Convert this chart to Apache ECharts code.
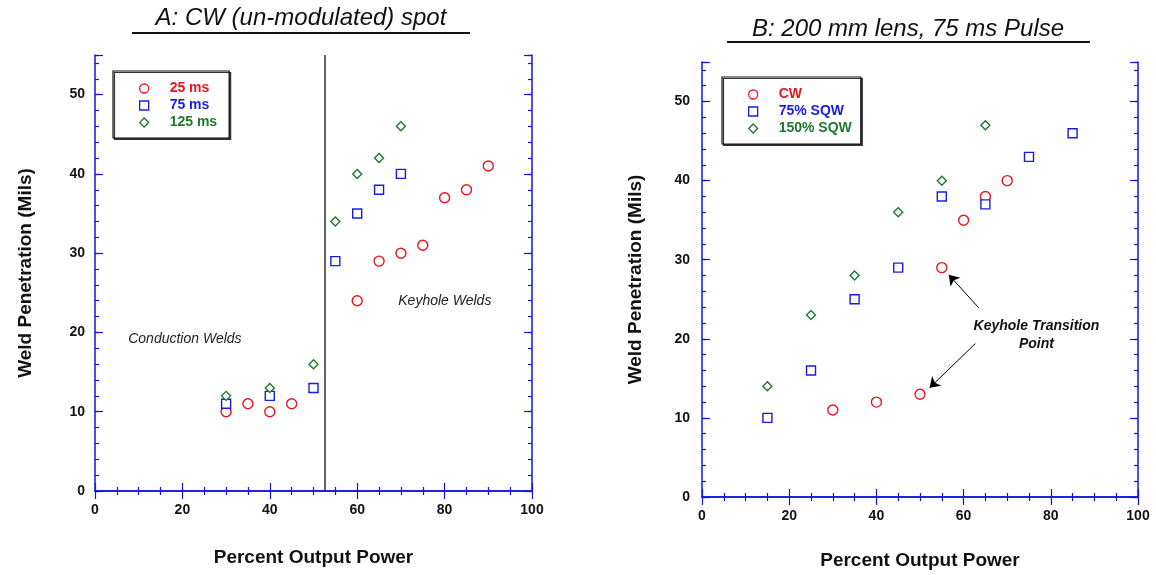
<!DOCTYPE html>
<html>
<head>
<meta charset="utf-8">
<title>Weld Penetration</title>
<script src="https://cdn.jsdelivr.net/npm/echarts@6/dist/echarts.min.js"></script>
<style>
  html, body { margin: 0; padding: 0; background: #fff; }
  #chart { width: 1156px; height: 575px; }
</style>
</head>
<body>
<div id="chart"></div>
<script>
// panel A: CW (un-modulated) spot
const aPower25 = [30, 35, 40, 45, 60, 65, 70, 75, 80, 85, 90];
const aDepth25 = [10, 11, 10, 11, 24, 29, 30, 31, 37, 38, 41];
const aPower75 = [30, 40, 50, 55, 60, 65, 70];
const aDepth75 = [11, 12, 13, 29, 35, 38, 40];
const aPower125 = [30, 40, 50, 55, 60, 65, 70];
const aDepth125 = [12, 13, 16, 34, 40, 42, 46];

// panel B: 200 mm lens, 75 ms pulse
const bPowerCW = [30, 40, 50, 55, 60, 65, 70];
const bDepthCW = [11, 12, 13, 29, 35, 38, 40];
const bPower75 = [15, 25, 35, 45, 55, 65, 75, 85];
const bDepth75 = [10, 16, 25, 29, 38, 37, 43, 46];
const bPower150 = [15, 25, 35, 45, 55, 65];
const bDepth150 = [14, 23, 28, 36, 40, 47];

const legendA = ['25 ms', '75 ms', '125 ms'];
const legendB = ['CW', '75% SQW', '150% SQW'];

const FONT = '"Liberation Sans", Arial, sans-serif';
const BLUE = '#1414dc';
const RED = '#e8141e';
const DBLUE = '#1a1ae6';
const GREEN = '#1c7a2c';

function pairs (xs, ys) {
  let out = [];
  for (let i = 0; i < xs.length; i++) {
    out.push([xs[i], ys[i]]);
  }
  return out;
}

function xAxes (g, gap) {
  return [{
    gridIndex: g,
    type: 'value',
    position: 'bottom',
    min: 0,
    max: 100,
    interval: 20,
    axisLine: { lineStyle: { color: BLUE, width: 1.5 } },
    axisTick: { inside: true, length: 8, lineStyle: { color: BLUE, width: 1.2 } },
    minorTick: { show: true, splitNumber: 4, length: 4, lineStyle: { color: BLUE, width: 1.2 } },
    splitLine: { show: false },
    axisLabel: { color: '#111', fontWeight: 'bold', fontSize: 14, fontFamily: FONT, margin: 12 },
    name: 'Percent Output Power',
    nameLocation: 'middle',
    nameGap: gap,
    nameTextStyle: { color: '#111', fontWeight: 'bold', fontSize: 19, fontFamily: FONT }
  }, {
    gridIndex: g,
    type: 'value',
    position: 'top',
    min: 0,
    max: 100,
    interval: 20,
    axisLine: { lineStyle: { color: BLUE, width: 1.5 } },
    axisTick: { inside: true, length: 8, lineStyle: { color: BLUE, width: 1.2 } },
    minorTick: { show: true, splitNumber: 4, length: 4, lineStyle: { color: BLUE, width: 1.2 } },
    splitLine: { show: false },
    axisLabel: { show: false }
  }];
}

function yAxes (g, gap, margin) {
  let base = {
    gridIndex: g,
    type: 'value',
    min: 0,
    max: 55,
    splitLine: { show: false }
  };
  return [
    Object.assign({}, base, {
      position: 'left',
      interval: 2,
      axisLine: { show: true, lineStyle: { color: BLUE, width: 1.5 } },
      axisTick: { inside: true, length: 4, lineStyle: { color: BLUE, width: 1.2 } },
      axisLabel: {
        color: '#111', fontWeight: 'bold', fontSize: 14, fontFamily: FONT, margin: margin,
        formatter: function (v) { return v % 10 === 0 ? String(v) : ''; }
      },
      name: 'Weld Penetration (Mils)',
      nameLocation: 'middle',
      nameGap: gap,
      nameTextStyle: { color: '#111', fontWeight: 'bold', fontSize: 19, fontFamily: FONT }
    }),
    Object.assign({}, base, {
      position: 'left',
      interval: 10,
      axisLine: { show: false },
      axisTick: { inside: true, length: 8, lineStyle: { color: BLUE, width: 1.2 } },
      axisLabel: { show: false }
    }),
    Object.assign({}, base, {
      position: 'right',
      interval: 2,
      axisLine: { show: true, lineStyle: { color: BLUE, width: 1.5 } },
      axisTick: { inside: true, length: 4, lineStyle: { color: BLUE, width: 1.2 } },
      axisLabel: { show: false }
    }),
    Object.assign({}, base, {
      position: 'right',
      interval: 10,
      axisLine: { show: false },
      axisTick: { inside: true, length: 8, lineStyle: { color: BLUE, width: 1.2 } },
      axisLabel: { show: false }
    })
  ];
}

function scatter (name, data, symbol, size, color, xi, yi) {
  return {
    name: name,
    type: 'scatter',
    xAxisIndex: xi,
    yAxisIndex: yi,
    data: data,
    symbol: symbol,
    symbolSize: size,
    itemStyle: { color: '#fff', borderColor: color, borderWidth: 1.4, opacity: 1 },
    z: 5
  };
}

function legend (names, colors, left, top, padding) {
  return {
    orient: 'vertical',
    left: left,
    top: top,
    padding: padding,
    itemWidth: 9,
    itemHeight: 9,
    itemGap: 2,
    selectedMode: false,
    backgroundColor: '#fff',
    borderColor: '#111',
    borderWidth: 1.2,
    shadowColor: '#333',
    shadowOffsetX: 1.5,
    shadowOffsetY: 1.5,
    shadowBlur: 0,
    itemStyle: { borderWidth: 1.3 },
    textStyle: { fontWeight: 'bold', fontSize: 14, fontFamily: FONT, lineHeight: 15, padding: [0, 0, 0, 16] },
    data: names.map(function (n, i) {
      return { name: n, textStyle: { color: colors[i] } };
    })
  };
}

let sA25 = scatter(legendA[0], pairs(aPower25, aDepth25), 'circle', 10, RED, 0, 0);
sA25.markLine = {
  silent: true,
  symbol: 'none',
  label: { show: false },
  lineStyle: { color: '#333', width: 1.5, type: 'solid' },
  data: [{ xAxis: 52.5 }]
};
sA25.markPoint = {
  silent: true,
  symbol: 'circle',
  symbolSize: 0,
  label: { show: true, position: 'right', distance: 0, color: '#222', fontStyle: 'italic', fontSize: 14, fontFamily: FONT },
  data: [
    { coord: [7.6, 19.1], value: 0, label: { formatter: 'Conduction Welds' } },
    { coord: [69.4, 23.9], value: 0, label: { formatter: 'Keyhole Welds' } }
  ]
};

let sBCW = scatter(legendB[0], pairs(bPowerCW, bDepthCW), 'circle', 10, RED, 2, 4);
sBCW.markLine = {
  silent: true,
  symbol: ['none', 'arrow'],
  symbolSize: 10,
  label: { show: false },
  lineStyle: { color: '#000', width: 1, type: 'solid' },
  data: [
    [{ coord: [63.5, 23.9] }, { coord: [56.6, 28.1] }],
    [{ coord: [62.7, 19.4] }, { coord: [52.2, 13.8] }]
  ]
};
sBCW.markPoint = {
  silent: true,
  symbol: 'circle',
  symbolSize: 0,
  label: {
    show: true, position: 'inside', color: '#111', fontStyle: 'italic', fontWeight: 'bold',
    fontSize: 14, fontFamily: FONT, lineHeight: 18, align: 'center'
  },
  data: [{ coord: [76.7, 20.5], value: 0, label: { formatter: 'Keyhole Transition\nPoint' } }]
};

let myChart = echarts.init(document.getElementById('chart'), null, { renderer: 'canvas' });
myChart.setOption({
  animation: false,
  backgroundColor: '#fff',
  textStyle: { fontFamily: FONT },
  grid: [
    { left: 95, top: 55, width: 437, height: 436 },
    { left: 702, top: 62, width: 436, height: 436 }
  ],
  xAxis: xAxes(0, 57).concat(xAxes(1, 54)),
  yAxis: yAxes(0, 60, 10).concat(yAxes(1, 57, 12)),
  legend: [
    legend(legendA, [RED, DBLUE, GREEN], 113, 71, [10, 12, 8, 26]),
    legend(legendB, [RED, DBLUE, GREEN], 722, 77, [10, 9, 8, 26])
  ],
  graphic: [
    {
      type: 'group',
      children: [
        { type: 'text', x: 301, y: 18, style: { text: 'A: CW (un-modulated) spot', fill: '#111', font: 'italic 24px ' + FONT, align: 'center', verticalAlign: 'middle' } },
        { type: 'rect', shape: { x: 132, y: 32, width: 338, height: 2 }, style: { fill: '#111' } },
        { type: 'text', x: 908, y: 29, style: { text: 'B: 200 mm lens, 75 ms Pulse', fill: '#111', font: 'italic 24px ' + FONT, align: 'center', verticalAlign: 'middle' } },
        { type: 'rect', shape: { x: 727, y: 41, width: 363, height: 2 }, style: { fill: '#111' } }
      ]
    }
  ],
  series: [
    sA25,
    scatter(legendA[1], pairs(aPower75, aDepth75), 'rect', 9, DBLUE, 0, 0),
    scatter(legendA[2], pairs(aPower125, aDepth125), 'diamond', 9, GREEN, 0, 0),
    sBCW,
    scatter(legendB[1], pairs(bPower75, bDepth75), 'rect', 9, DBLUE, 2, 4),
    scatter(legendB[2], pairs(bPower150, bDepth150), 'diamond', 9, GREEN, 2, 4)
  ]
});
</script>
</body>
</html>
